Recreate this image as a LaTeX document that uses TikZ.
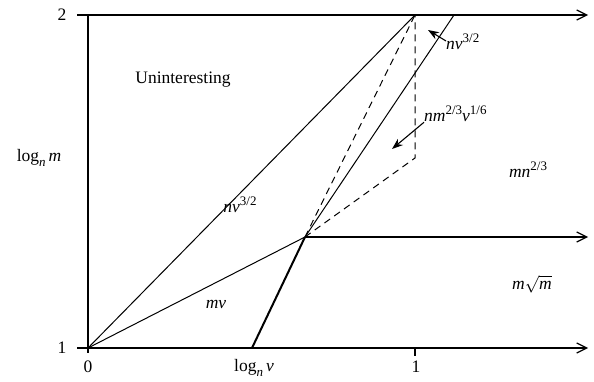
\documentclass[tikz,border=0pt]{standalone}
\usepackage{fontspec}
\setmainfont{Liberation Serif}
\usetikzlibrary{arrows.meta}
\tikzset{
  axisline/.style={line width=1.2pt,-{Straight Barb[length=10pt,width=10pt,line width=1.2pt]}},
  thin line/.style={line width=1pt},
  thickline/.style={line width=2pt},
  dashline/.style={line width=1pt,dash pattern=on 7pt off 5pt},
  lbl/.style={font=\fontsize{17.5}{19}\selectfont,inner sep=0pt},
  ptr/.style={line width=1.1pt,-{Stealth[length=11pt,width=8pt]}}
}
\newcommand\iv[1]{\textit{#1}}
\newcommand\supx[1]{\raisebox{0.42em}{\fontsize{13}{14}\selectfont #1}}
\newcommand\subx[1]{\raisebox{-0.25em}{\fontsize{13}{14}\selectfont #1}}
\begin{document}
\begin{tikzpicture}[x={(1pt,0)},y={(0,-1pt)}]
\useasboundingbox (0,0) rectangle (594,382);
% key points
\coordinate (O) at (88,348);
\coordinate (Otop) at (88,15);
\coordinate (Obot) at (88,353);
\coordinate (T1) at (415,15);
\coordinate (T2) at (454,15);
\coordinate (P) at (305,237);
\coordinate (B) at (252,348);
\coordinate (D) at (415,158);
\coordinate (Tl) at (77,15);
\coordinate (Tr) at (588,15);
\coordinate (Ml) at (305,237);
\coordinate (Mr) at (588,237);
\coordinate (Bl) at (77,348);
\coordinate (Br) at (588,348);
\coordinate (k1a) at (415,348);
\coordinate (k1b) at (415,356);
% axes and horizontal lines
\draw[axisline] (Tl) -- (Tr);
\draw[axisline] (Ml) -- (Mr);
\draw[axisline] (Bl) -- (Br);
\draw[line width=1.2pt] (Otop) -- (Obot);
\draw[line width=1.2pt] (k1a) -- (k1b);
% region boundaries
\draw[thin line] (O) -- (T1);
\draw[thin line] (O) -- (P);
\draw[thickline] (B) -- (P);
\draw[thin line] (P) -- (T2);
\draw[dashline] (P) -- (T1);
\draw[dashline] (P) -- (D) -- (T1);
% axis labels
\node[lbl] (l2) at (62,15) {2};
\node[lbl] (l1) at (62,348) {1};
\node[lbl] (lm) at (39,158) {log\subx{\iv{n}}\,\iv{m}};
\node[lbl] (x0) at (88,367) {0};
\node[lbl] (xv) at (254,368) {log\subx{\iv{n}}\,\iv{v}};
\node[lbl] (x1) at (416,367) {1};
% region labels
\node[lbl] (un) at (183,80) {Uninteresting};
\node[lbl] (r1) at (240,205) {\iv{nv}\supx{3/2}};
\node[lbl] (r2) at (216,304) {\iv{mv}};
\node[lbl] (r3) at (528,170) {\iv{mn}\supx{2/3}};
\node[lbl] (r4) at (532,284) {\iv{m}$\sqrt{\textit{m}}$};
\node[lbl,anchor=west] (r5) at (446,42) {\iv{nv}\supx{3/2}};
\node[lbl,anchor=west] (r6) at (424,114) {\iv{nm}\supx{2/3}\iv{v}\supx{1/6}};
\coordinate (a5) at (428,30);
\coordinate (a6) at (392,149);
\draw[ptr] (r5.west) ++(0,-1) -- (a5);
\draw[ptr] (r6.south west) -- (a6);
\end{tikzpicture}
\end{document}
